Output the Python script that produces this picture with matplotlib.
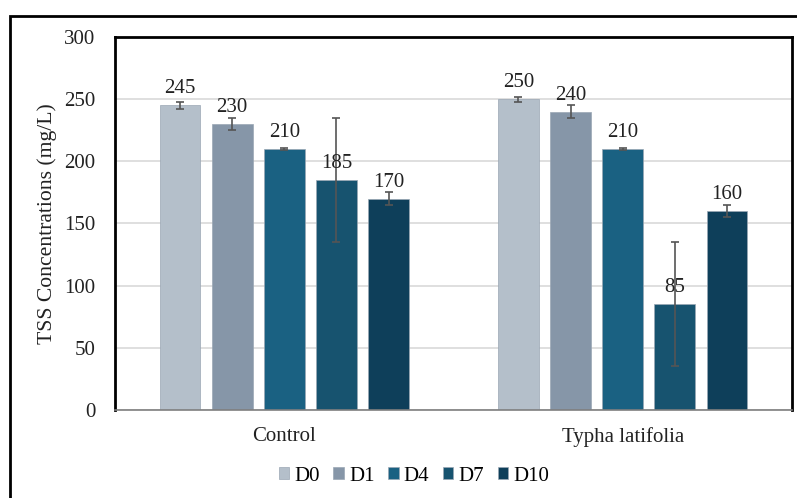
import numpy as np
import matplotlib.pyplot as plt
from matplotlib.patches import Rectangle

plt.rcParams['font.family'] = ['Liberation Serif', 'DejaVu Serif']

groups = ['Control', 'Typha latifolia']
days = ['D0', 'D1', 'D4', 'D7', 'D10']
tss = {
    'D0': [245, 250],
    'D1': [230, 240],
    'D4': [210, 210],
    'D7': [185, 85],
    'D10': [170, 160],
}
tss_err = {
    'D0': [3, 2],
    'D1': [5, 5],
    'D4': [0.5, 0.5],
    'D7': [50, 50],
    'D10': [5, 5],
}
colors = ['#b4bfca', '#8696a8', '#1a6182', '#17536f', '#0e3f5a']

W, H = 797, 498
fs = 15
fig = plt.figure(figsize=(W / 100, H / 100), dpi=100)

# outer border (cut off at right and bottom)
fig.patches.append(Rectangle((10 / W, -0.05), 1.1, 1 - 16 / H + 0.05,
                             transform=fig.transFigure, fill=False,
                             edgecolor='black', linewidth=2))

ax = fig.add_axes([115 / W, 1 - 410 / H, (792 - 115) / W, (410 - 37) / H])

x = np.arange(len(groups))
step = 0.154
width = 0.121
for i, d in enumerate(days):
    pos = x + (i - 2) * step
    bars = ax.bar(pos, tss[d], width, color=colors[i], edgecolor='#9aa7b4',
                  linewidth=0.5, label=d, zorder=2)
    ax.errorbar(pos, tss[d], yerr=tss_err[d], fmt='none', ecolor='#555555',
                elinewidth=1.2, capsize=3, capthick=1.2, zorder=3)
    for b, v in zip(bars, tss[d]):
        ax.annotate(f'{v}', (b.get_x() + b.get_width() / 2, v),
                    xytext=(0, 5), textcoords='offset points',
                    ha='center', va='bottom', fontsize=fs, color='#222222',
                    zorder=4)

ax.set_xlim(-0.5, 1.5)
ax.set_ylim(0, 300)
ax.set_yticks(range(0, 301, 50))
ax.yaxis.grid(True, color='#d9d9d9', linewidth=1.2, zorder=0)
ax.set_axisbelow(True)
ax.set_xticks(x)
ax.set_xticklabels(groups)
ax.tick_params(axis='both', length=0, labelsize=fs, colors='#222222')
ax.tick_params(axis='x', pad=12)
ax.tick_params(axis='y', pad=14)
for s in ['left', 'top', 'right']:
    ax.spines[s].set_linewidth(2)
    ax.spines[s].set_color('black')
ax.spines['bottom'].set_color('#7f7f7f')
ax.spines['bottom'].set_linewidth(1.2)
ax.set_ylabel('TSS Concentrations (mg/L)', fontsize=15.6, color='#222222',
              labelpad=5)

fig.legend(loc='center', bbox_to_anchor=(414 / W, 1 - 476 / H), ncol=5,
           frameon=False, fontsize=fs, handlelength=0.5, handleheight=0.5,
           handletextpad=0.25, columnspacing=0.65)

fig.savefig('out.png', dpi=100)
